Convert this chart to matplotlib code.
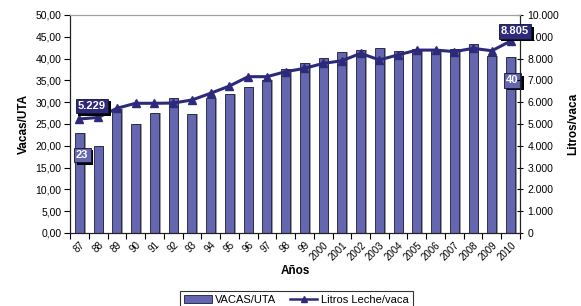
import matplotlib
matplotlib.use("Agg")
import matplotlib.pyplot as plt
import numpy as np
from matplotlib.lines import Line2D
from matplotlib.patches import Patch
import matplotlib.patheffects as pe

plt.rcParams['font.family'] = ['Liberation Sans', 'DejaVu Sans']

years = ['87', '88', '89', '90', '91', '92', '93', '94', '95', '96', '97', '98', '99',
         '2000', '2001', '2002', '2003', '2004', '2005', '2006', '2007', '2008', '2009', '2010']
vacas_uta = [23.0, 20.0, 28.4, 25.0, 27.5, 30.9, 27.2, 31.0, 31.8, 33.4, 35.1, 37.5, 38.9,
             40.1, 41.4, 41.9, 42.4, 41.7, 42.2, 42.2, 42.2, 43.3, 40.6, 40.4]
litros_vaca = [5229, 5300, 5720, 5950, 5950, 5960, 6100, 6410, 6740, 7170, 7170, 7400, 7550,
               7780, 7900, 8240, 7940, 8170, 8390, 8390, 8320, 8470, 8360, 8805]

bar_color = '#6466b0'
line_color = '#2d2a7c'

fig = plt.figure(figsize=(5.81, 3.06), dpi=100)
ax = fig.add_axes([0.1205, 0.2386, 0.7745, 0.7124])
ax2 = ax.twinx()

x = np.arange(len(years))
w = 0.47
# shadow bars
ax.bar(x + 0.1, vacas_uta, width=w, color='#9a9a9a', zorder=1)
ax.bar(x, vacas_uta, width=w, color=bar_color, edgecolor='#1c1c3c', linewidth=0.6, zorder=2)

ax.set_xlim(-0.5, len(years) - 0.5)
ax.set_ylim(0, 50)
ax.set_yticks(np.arange(0, 50.1, 5))
ax.set_yticklabels([f"{v:.2f}".replace('.', ',') for v in np.arange(0, 50.1, 5)], fontsize=7.5)
ax.set_xticks(np.arange(-0.5, len(years), 1), minor=False)
ax.set_xticklabels([])
ax.set_xticks(x, minor=True)
ax.set_xticklabels(years, minor=True, rotation=45, fontsize=7, ha='right', va='top',
                   rotation_mode='anchor')
ax.tick_params(axis='x', which='minor', length=0, pad=5)
ax.tick_params(axis='x', which='major', length=4, direction='out', width=0.8)
ax.tick_params(axis='y', length=4, direction='out', width=0.8, pad=2)

ax2.plot(x, litros_vaca, color=line_color, linewidth=2.2, marker='^', markersize=6,
         zorder=5)
ax2.set_ylim(0, 10000)
ticks2 = np.arange(0, 10001, 1000)
ax2.set_yticks(ticks2)
ax2.set_yticklabels([f"{int(t):,}".replace(',', '.') for t in ticks2], fontsize=7.5)
ax2.tick_params(axis='y', length=5, direction='inout', width=0.8, pad=3)

for a in (ax, ax2):
    a.spines['top'].set_color('#a0a0a0')
    a.spines['left'].set_color('#222222')
    a.spines['right'].set_color('#222222')
    a.spines['bottom'].set_color('#222222')

ax.set_ylabel('Vacas/UTA', fontsize=8.5, fontweight='bold', labelpad=4)
ax2.set_ylabel('Litros/vaca', fontsize=8.5, fontweight='bold', labelpad=6)
ax.set_xlabel('Años', fontsize=8.5, fontweight='bold', labelpad=2)

def label(axis, xv, yv, txt, dx, dy, fc):
    t = axis.annotate(txt, (xv, yv), xytext=(dx, dy), textcoords='offset points',
                      ha='center', va='center', fontsize=8, fontweight='bold',
                      color='white', annotation_clip=False, zorder=9,
                      bbox=dict(boxstyle='square,pad=0.2', fc=fc, ec='#111133', lw=0.6))
    t.get_bbox_patch().set_path_effects([
        pe.SimplePatchShadow(offset=(2, -2), shadow_rgbFace='black', alpha=1.0),
        pe.Normal()])

label(ax2, x[0], litros_vaca[0], f"{litros_vaca[0]:,}".replace(',', '.'), 9, 9.5, line_color)
label(ax2, x[-1], litros_vaca[-1], f"{litros_vaca[-1]:,}".replace(',', '.'), 3, 7, line_color)
label(ax, x[0], vacas_uta[0], f"{vacas_uta[0]:.0f}", 2, -16, bar_color)
label(ax, x[-1], vacas_uta[-1], f"{vacas_uta[-1]:.0f}", 1.4, -17, bar_color)

handles = [Patch(facecolor=bar_color, edgecolor='#1c1c3c', linewidth=0.6),
           Line2D([], [], color=line_color, lw=1.8, marker='^', markersize=5)]
leg = fig.legend(handles, ['VACAS/UTA', 'Litros Leche/vaca'], loc='upper center',
                 bbox_to_anchor=(0.51, 0.068), ncol=2, fontsize=8, frameon=True,
                 fancybox=False, edgecolor='black', handlelength=2.5, handletextpad=0.3,
                 columnspacing=1.2, borderpad=0.4)
leg.get_frame().set_linewidth(0.8)

fig.savefig('out.png', dpi=100)
